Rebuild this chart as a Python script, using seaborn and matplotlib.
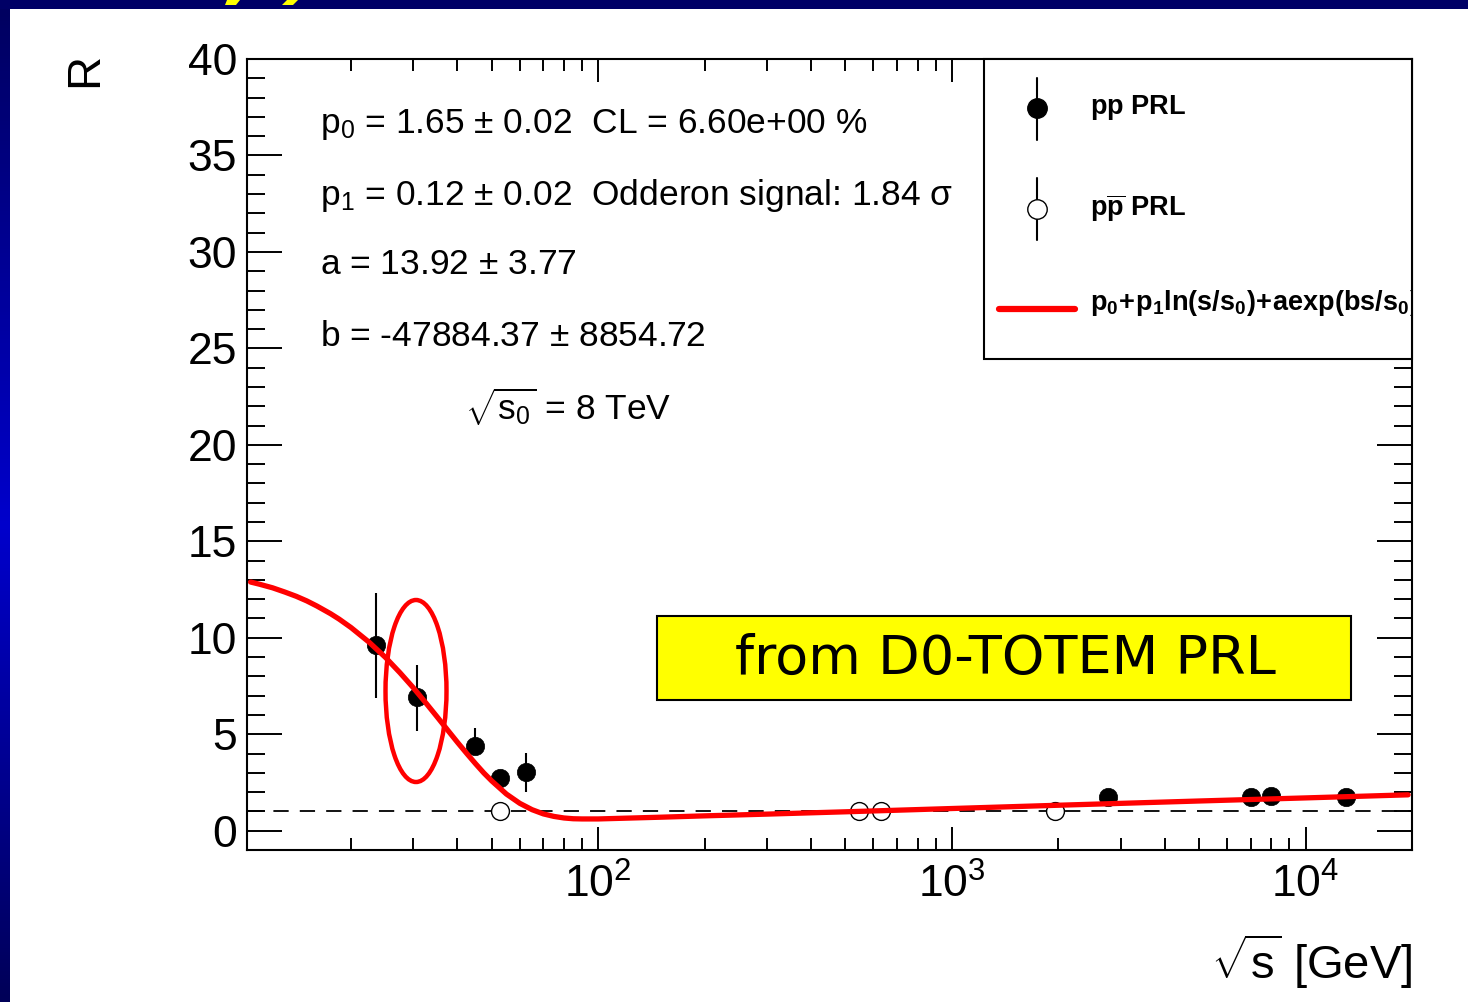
import numpy as np
import pandas as pd
import matplotlib
matplotlib.use("Agg")
import matplotlib.pyplot as plt
import seaborn as sns
from matplotlib.patches import Rectangle, Ellipse, Polygon
from matplotlib.lines import Line2D
from matplotlib.ticker import MultipleLocator, LogLocator, NullFormatter
from matplotlib.colors import LinearSegmentedColormap

# ---------------- data ----------------
pp_sqrts = [23.5, 30.7, 44.7, 52.8, 62.5, 2760, 7000, 8000, 13000]
pp_R = [9.64, 6.94, 4.40, 2.75, 3.06, 1.75, 1.75, 1.78, 1.75]
pp_R_low = [6.89, 5.18, 4.00, 2.55, 2.02, 1.65, 1.65, 1.68, 1.65]
pp_R_high = [12.33, 8.60, 5.34, 2.95, 4.04, 1.85, 1.85, 1.88, 1.85]

ppbar_sqrts = [52.8, 546, 630, 1960]
ppbar_R = [1.0, 1.0, 1.0, 1.0]

fit_sqrts = [10.4, 11, 12, 13, 14, 15, 16, 17.5, 18.5, 20, 22.5, 25, 27.5,
             30, 32.5, 35, 37.5, 40, 42.5, 45, 47.5, 50, 55, 60, 65, 70, 75,
             80, 85, 90, 100, 150, 200, 300, 500, 1000, 2000, 5000, 10000,
             19500]
fit_R = [12.89, 12.78, 12.59, 12.37, 12.15, 11.91, 11.65, 11.25, 10.97,
         10.53, 9.77, 8.99, 8.19, 7.41, 6.64, 5.91, 5.22, 4.58, 4.00, 3.47,
         2.99, 2.58, 1.90, 1.42, 1.09, 0.87, 0.74, 0.66, 0.62, 0.61, 0.61,
         0.70, 0.77, 0.86, 0.98, 1.15, 1.32, 1.54, 1.70, 1.86]

stat_lines = [r"p$_0$ = 1.65 $\pm$ 0.02  CL = 6.60e+00 %",
              r"p$_1$ = 0.12 $\pm$ 0.02  Odderon signal: 1.84 σ",
              r"a = 13.92 $\pm$ 3.77",
              r"b = -47884.37 $\pm$ 8854.72"]
legend_labels = [r"$\mathbf{pp}$ PRL",
                 r"$\mathbf{p\overline{p}}$ PRL",
                 r"$\mathbf{p_0\!+\!p_1ln(s/s_0)\!+\!aexp(bs/s_0)}$"]
y_ticks = [0, 5, 10, 15, 20, 25, 30, 35, 40]

pp_df = pd.DataFrame({"sqrts": pp_sqrts, "R": pp_R})
ppbar_df = pd.DataFrame({"sqrts": ppbar_sqrts, "R": ppbar_R})
fit_df = pd.DataFrame({"sqrts": fit_sqrts, "R": fit_R})

# ---------------- style ----------------
sns.set_theme(style="ticks")
plt.rcParams["font.family"] = ["Liberation Sans", "DejaVu Sans"]
plt.rcParams["mathtext.fontset"] = "custom"
plt.rcParams["mathtext.rm"] = "Liberation Sans"
plt.rcParams["mathtext.it"] = "Liberation Sans:italic"
plt.rcParams["mathtext.bf"] = "Liberation Sans:bold"
plt.rcParams["mathtext.sf"] = "Liberation Sans"
plt.rcParams["lines.scale_dashes"] = False

W, H = 1468, 1002
fig = plt.figure(figsize=(W / 100, H / 100), dpi=100, facecolor="white")

def fx(px):
    return px / W

def fy(py):
    return 1 - py / H

# slide background: navy top strip, gradient left strip
fig.patches.append(Rectangle((0, fy(9)), 1, 9 / H, transform=fig.transFigure,
                             facecolor="#000066", edgecolor="none", zorder=0))
cmap = LinearSegmentedColormap.from_list(
    "slide", [(0, "#000060"), (0.52, "#0000CC"), (1, "#000058")])
bax = fig.add_axes([0, 0, fx(10), fy(9)])
bax.imshow(np.linspace(0, 1, 256).reshape(-1, 1), aspect="auto", cmap=cmap)
bax.set_axis_off()
for pts in ([(227, 0), (240, 0), (236, 5), (225, 5)],
            [(287, 0), (298, 0), (293, 5), (282, 5)]):
    fig.patches.append(Polygon([(fx(a), fy(b)) for a, b in pts], closed=True,
                               transform=fig.transFigure, facecolor="#FFFF00",
                               edgecolor="none", zorder=1))

# ---------------- main axes ----------------
L, R_, T, B = 247, 1412, 59, 850
ax = fig.add_axes([fx(L), fy(B), (R_ - L) / W, (B - T) / H])
ax.set_xscale("log")
ax.set_xlim(10.16, 20000)
ax.set_ylim(-1, 40)

ax.axhline(1.0, color="black", lw=1.3, dashes=(11, 8), zorder=1)

ax.vlines(pp_sqrts, pp_R_low, pp_R_high, color="black", lw=1.5, zorder=2)
sns.scatterplot(data=pp_df, x="sqrts", y="R", ax=ax, s=175, color="black",
                edgecolor="black", linewidth=0.5, zorder=3, legend=False)
sns.scatterplot(data=ppbar_df, x="sqrts", y="R", ax=ax, s=165,
                facecolor="white", edgecolor="black", linewidth=1.0,
                zorder=3, legend=False)
sns.lineplot(data=fit_df, x="sqrts", y="R", ax=ax, color="#FF0000", lw=3.8,
             estimator=None, sort=False, zorder=4, legend=False)

ax.set_xlabel("")
ax.set_ylabel("")
ax.set_yticks(y_ticks)
ax.yaxis.set_minor_locator(MultipleLocator(1))
ax.xaxis.set_major_locator(LogLocator(base=10))
ax.xaxis.set_minor_locator(LogLocator(base=10, subs=np.arange(2, 10)))
ax.xaxis.set_minor_formatter(NullFormatter())
ax.tick_params(which="both", direction="in", top=True, right=True,
               width=1.4, color="black", labelsize=32, labelcolor="black")
ax.tick_params(axis="y", which="major", length=25, pad=7)
ax.tick_params(axis="y", which="minor", length=13)
ax.tick_params(axis="x", which="major", length=16.5, pad=10)
ax.tick_params(axis="x", which="minor", length=8.6)
for sp in ax.spines.values():
    sp.set_linewidth(1.5)
    sp.set_color("black")
    sp.set_visible(True)

def axx(px):
    return (px - L) / (R_ - L)

def axy(py):
    return (B - py) / (B - T)

# fit statistics text
stat_y = [125, 195, 265, 337]
for txt, py in zip(stat_lines, stat_y):
    ax.text(axx(320), axy(py), txt, transform=ax.transAxes,
            fontsize=25.5, ha="left", va="center", color="black", zorder=5)
ax.text(axx(465), axy(407), r"$\sqrt{\mathrm{s}_0}$ = 8 TeV",
        transform=ax.transAxes, fontsize=25.5, ha="left", va="center",
        color="black", zorder=5)

# legend box (ROOT style)
box = Rectangle((axx(984), axy(359)), 1 - axx(984), 1 - axy(359),
                transform=ax.transAxes, facecolor="white", edgecolor="black",
                lw=1.5, zorder=5, clip_on=False)
ax.add_patch(box)
mx = axx(1037)
ax.add_line(Line2D([mx, mx], [axy(78), axy(140)], transform=ax.transAxes,
                   color="black", lw=1.5, zorder=6))
ax.add_line(Line2D([mx], [axy(108)], transform=ax.transAxes, marker="o",
                   markersize=14, markerfacecolor="black",
                   markeredgecolor="black", lw=0, zorder=7))
ax.add_line(Line2D([mx, mx], [axy(178), axy(240)], transform=ax.transAxes,
                   color="black", lw=1.5, zorder=6))
ax.add_line(Line2D([mx], [axy(209)], transform=ax.transAxes, marker="o",
                   markersize=14, markerfacecolor="white",
                   markeredgecolor="black", markeredgewidth=1.0, lw=0, zorder=7))
ax.add_line(Line2D([axx(999), axx(1075)], [axy(309), axy(309)],
                   transform=ax.transAxes, color="#FF0000", lw=4.5, zorder=6))
for lab, py in zip(legend_labels, [107, 208, 303]):
    t = ax.text(axx(1090), axy(py), lab, transform=ax.transAxes, fontsize=19.5,
                fontweight="bold", ha="left", va="center", color="black",
                zorder=7, clip_on=True)
    t.set_clip_path(box)

# yellow overlay box
ybox = Rectangle((axx(657), axy(700)), axx(1351) - axx(657), axy(616) - axy(700),
                 transform=ax.transAxes, facecolor="#FFFF00", edgecolor="black",
                 lw=1.5, zorder=8)
ax.add_patch(ybox)
ax.text(axx(1005), axy(659), "from D0-TOTEM PRL", transform=ax.transAxes,
        fontsize=39, family="DejaVu Sans", ha="center", va="center",
        color="black", zorder=9)

# red ellipse highlight
ax.add_patch(Ellipse((axx(416), axy(691)), 61 / (R_ - L), 182 / (B - T),
                     transform=ax.transAxes, facecolor="none",
                     edgecolor="#FF0000", lw=3.2, zorder=9))

# axis titles
fig.text(fx(85), fy(70), "R", rotation=90, fontsize=34, ha="center",
         va="center", color="black")
fig.text(fx(1412), fy(962), r"$\sqrt{\mathrm{s}}$ [GeV]", fontsize=34,
         ha="right", va="center", color="black")

fig.savefig("out.png", dpi=100, facecolor="white")
